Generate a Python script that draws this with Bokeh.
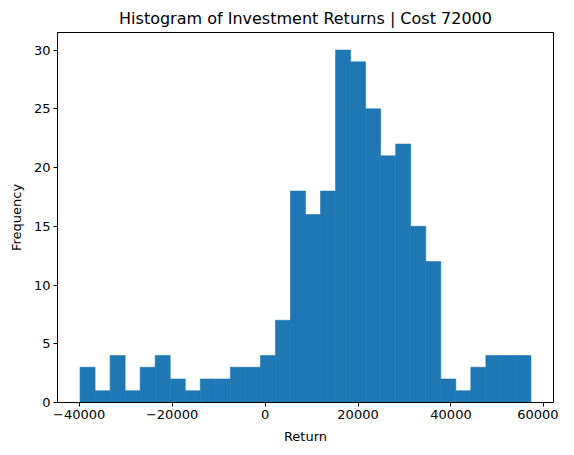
import numpy as np
from bokeh.plotting import figure
from bokeh.models import FixedTicker, Range1d
from bokeh.embed import file_html
from bokeh.resources import INLINE

# Data
bin_start = -39800
bin_end = 57200
counts = [3, 1, 4, 1, 3, 4, 2, 1, 2, 2, 3, 3, 4, 7, 18, 16, 18, 30, 29, 25,
          21, 22, 15, 12, 2, 1, 3, 4, 4, 4]
x_ticks = [-40000, -20000, 0, 20000, 40000, 60000]
y_ticks = [0, 5, 10, 15, 20, 25, 30]

edges = np.linspace(bin_start, bin_end, len(counts) + 1)
span = bin_end - bin_start
ymax = max(counts)

FONT = "DejaVu Sans"
p = figure(width=558, height=447, output_backend="svg", toolbar_location=None,
           title="Histogram of Investment Returns | Cost 72000",
           x_range=Range1d(bin_start - 0.05 * span, bin_end + 0.05 * span),
           y_range=Range1d(0, ymax * 1.05),
           frame_width=496, frame_height=370,
           min_border_left=57, min_border_right=5, min_border_bottom=45, min_border_top=32)

p.quad(left=edges[:-1], right=edges[1:], bottom=0, top=counts,
       fill_color="#1f77b4", line_color="#1f77b4", line_width=0.6)

p.title.text_font = FONT
p.title.text_font_size = "16px"
p.title.text_font_style = "normal"
p.title.align = "center"
p.title.text_color = "black"

p.xgrid.visible = False
p.ygrid.visible = False
p.outline_line_color = "black"
p.outline_line_width = 1
p.outline_line_alpha = 1

for ax in (p.xaxis[0], p.yaxis[0]):
    ax.major_tick_in = 0
    ax.major_tick_out = 4
    ax.minor_tick_in = 0
    ax.minor_tick_out = 0
    ax.major_label_text_font = FONT
    ax.major_label_text_font_size = "13px"
    ax.major_label_text_color = "black"
    ax.axis_label_text_font = FONT
    ax.axis_label_text_font_size = "13px"
    ax.axis_label_text_font_style = "normal"
    ax.axis_label_text_color = "black"
    ax.axis_line_color = "black"
    ax.major_tick_line_color = "black"
    ax.major_label_standoff = 3
    ax.axis_label_standoff = 7

p.xaxis[0].ticker = FixedTicker(ticks=x_ticks)
p.yaxis[0].ticker = FixedTicker(ticks=y_ticks)
p.xaxis[0].major_label_overrides = {t: (str(t).replace("-", "\u2212")) for t in x_ticks}
p.xaxis[0].axis_label = "Return"
p.yaxis[0].axis_label = "Frequency"

open("out.html", "w").write(file_html(p, INLINE))
